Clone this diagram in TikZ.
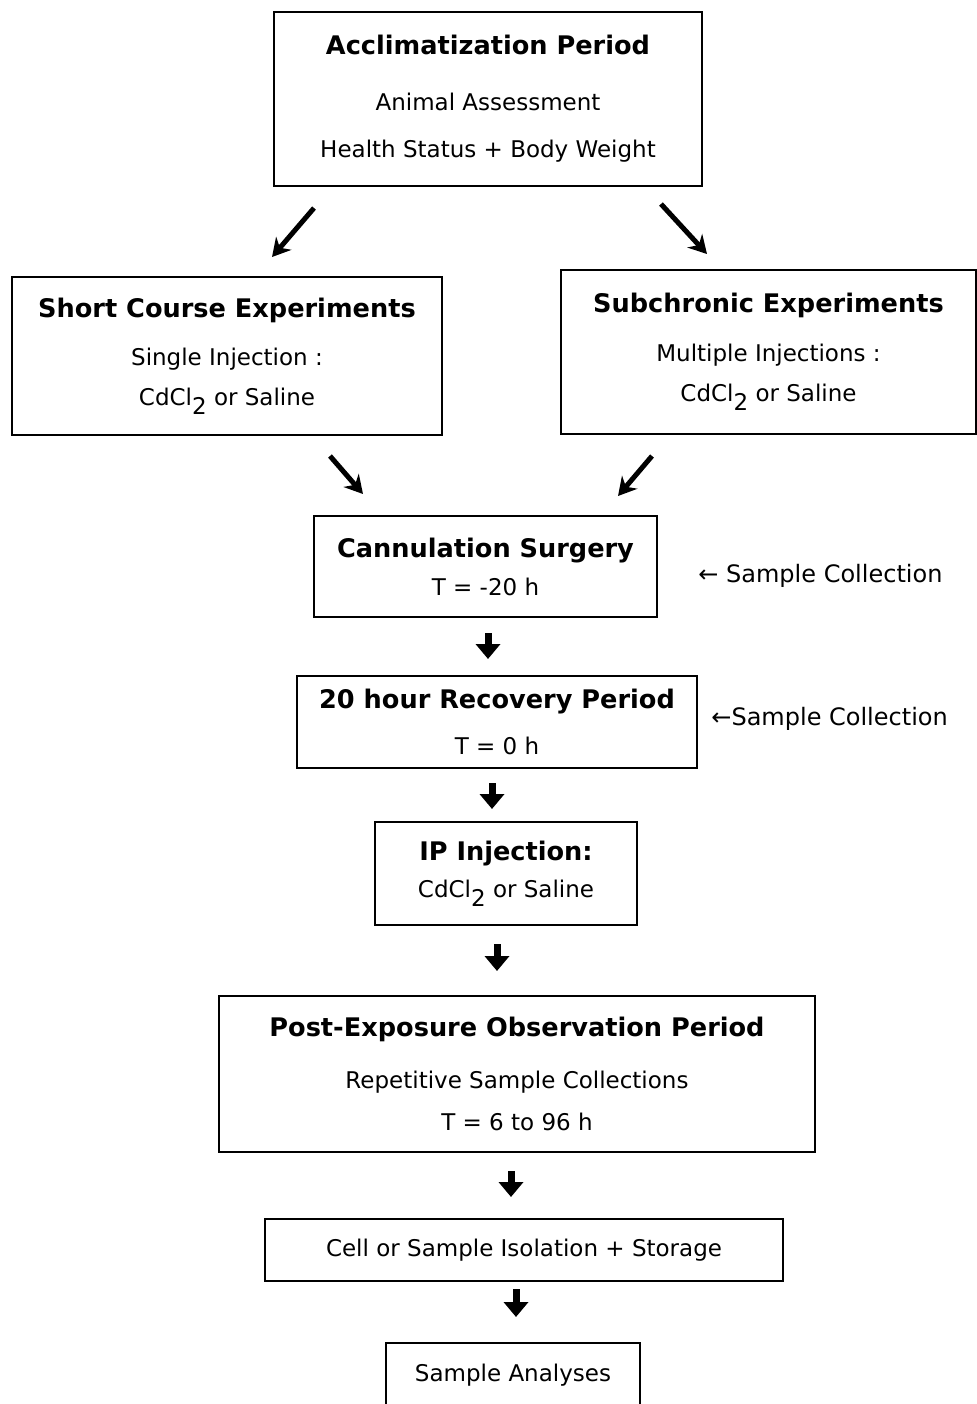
\documentclass[tikz,border=0pt]{standalone}
\usepackage{fontspec}
\setmainfont{DejaVu Sans}
\usetikzlibrary{positioning,arrows.meta}
\newcommand{\stagetitle}[1]{{\fontsize{12.8}{14}\selectfont\bfseries #1}}
\newcommand{\cdcl}{CdCl\raisebox{-4.5pt}{2}}
\begin{document}
\begin{tikzpicture}[
    x=0.5pt, y=-0.5pt,
    stagebox/.style = {draw, line width=1pt, inner sep=0pt, align=center,
        font=\fontsize{11.5}{14}\selectfont},
    diagarrow/.style = {line width=2.5pt, -{Stealth[length=9pt,width=10pt]}},
    downarrow/.style = {line width=3.5pt, -{Triangle[length=7.5pt,width=12pt]}},
    collect/.style = {anchor=base west, inner sep=0pt, font=\fontsize{12}{14}\selectfont}]
    \useasboundingbox (0,0) rectangle (977,1404);
    \node[stagebox, minimum width=214pt, minimum height=87pt] (accl) at (488,99)
        {\stagetitle{Acclimatization Period}\\[14pt]
         Animal Assessment\\[9.5pt] Health Status + Body Weight};
    \node[stagebox, minimum width=215pt, minimum height=79pt] (short) at (227,356)
        {\stagetitle{Short Course Experiments}\\[10pt]
         Single Injection :\\[6pt] \cdcl{} or Saline};
    \node[stagebox, minimum width=207.5pt, minimum height=82pt] (subch) at (768.5,352)
        {\stagetitle{Subchronic Experiments}\\[10.5pt]
         Multiple Injections :\\[6pt] \cdcl{} or Saline};
    \node[stagebox, minimum width=171.5pt, minimum height=50.5pt] (cannul) at (485.5,566.5)
        {\stagetitle{Cannulation Surgery}\\[5pt] T = -20 h};
    \node[stagebox, minimum width=200pt, minimum height=46pt] (recov) at (497,722)
        {\stagetitle{20 hour Recovery Period}\\[9pt] T = 0 h};
    \node[stagebox, minimum width=131pt, minimum height=51.5pt] (ipinj) at (506,873.5)
        {\stagetitle{IP Injection:}\\[4.5pt] \cdcl{} or Saline};
    \node[stagebox, minimum width=298pt, minimum height=78pt] (postexp) at (517,1074)
        {\stagetitle{Post-Exposure Observation Period}\\[12pt]
         Repetitive Sample Collections\\[7pt] T = 6 to 96 h};
    \node[stagebox, minimum width=259pt, minimum height=31pt] (isol) at (524,1250)
        {Cell or Sample Isolation + Storage};
    \node[stagebox, minimum width=127pt, minimum height=32pt] (analys) at (513,1375)
        {Sample Analyses};
    \node[collect] (collect1) at ([shift={(40,15.5)}]cannul.east) {← Sample Collection};
    \node[collect] (collect2) at ([shift={(13,3)}]recov.east) {←Sample Collection};
    \draw[diagarrow] ([shift={(41,21)}]accl.south west) -- ([shift={(45,-19)}]short.north);
    \draw[diagarrow] ([shift={(-42,17)}]accl.south east) -- ([shift={(-61.5,-15)}]subch.north);
    \draw[diagarrow] ([shift={(103,20)}]short.south) -- ([shift={(-122.5,-21)}]cannul.north);
    \draw[diagarrow] ([shift={(-116.5,21)}]subch.south) -- ([shift={(132.5,-19)}]cannul.north);
    \draw[downarrow] ([shift={(2.5,15)}]cannul.south) -- ([shift={(-9,-16)}]recov.north);
    \draw[downarrow] ([shift={(-5,14)}]recov.south) -- ([shift={(-14,-12)}]ipinj.north);
    \draw[downarrow] ([shift={(-9,18)}]ipinj.south) -- ([shift={(-20,-24)}]postexp.north);
    \draw[downarrow] ([shift={(-6,18)}]postexp.south) -- ([shift={(-13,-21)}]isol.north);
    \draw[downarrow] ([shift={(-8,7)}]isol.south) -- ([shift={(3,-25)}]analys.north);
\end{tikzpicture}
\end{document}
